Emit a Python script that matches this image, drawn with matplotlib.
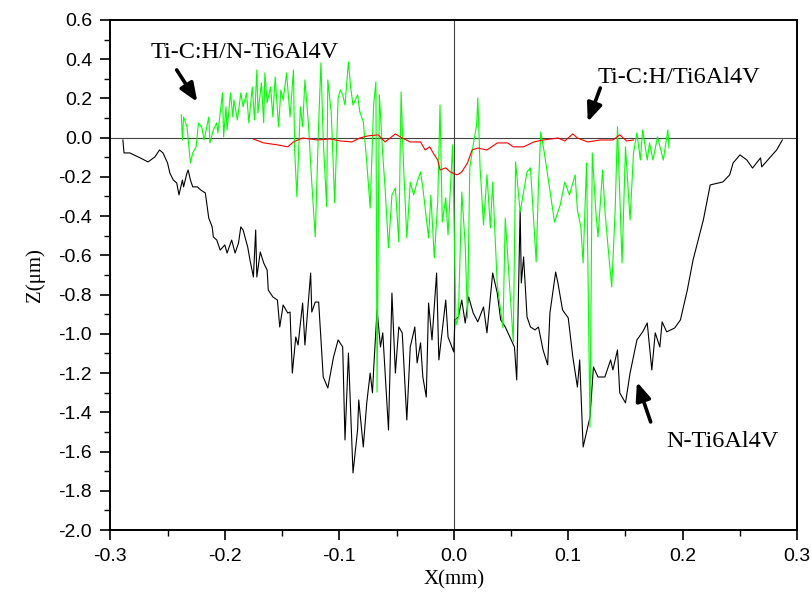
import matplotlib
matplotlib.use("Agg")
import matplotlib.pyplot as plt
from matplotlib.ticker import MultipleLocator

plt.rcParams['axes.unicode_minus'] = False

# N-Ti6Al4V (black)
black_x = [-0.289, -0.288, -0.283, -0.274, -0.267, -0.261, -0.257, -0.254, -0.250, -0.248,
           -0.245, -0.242, -0.240, -0.237, -0.236, -0.233, -0.232, -0.230, -0.228, -0.224,
           -0.221, -0.217, -0.214, -0.211, -0.210, -0.207, -0.204, -0.200, -0.198, -0.194,
           -0.191, -0.188, -0.186, -0.184, -0.180, -0.178, -0.175, -0.173, -0.172, -0.169,
           -0.166, -0.163, -0.162, -0.158, -0.154, -0.152, -0.149, -0.145, -0.143, -0.141,
           -0.138, -0.136, -0.132, -0.130, -0.125, -0.124, -0.121, -0.118, -0.114, -0.110,
           -0.105, -0.101, -0.097, -0.095, -0.092, -0.088, -0.084, -0.083, -0.079, -0.076,
           -0.073, -0.071, -0.070, -0.067, -0.064, -0.062, -0.057, -0.054, -0.051, -0.048,
           -0.045, -0.041, -0.038, -0.034, -0.032, -0.029, -0.027, -0.024, -0.022, -0.019,
           -0.015, -0.013, -0.007, -0.005, 0.000, 0.001, 0.004, 0.007, 0.010, 0.013,
           0.017, 0.021, 0.026, 0.029, 0.034, 0.038, 0.041, 0.045, 0.049, 0.053,
           0.055, 0.058, 0.059, 0.061, 0.064, 0.067, 0.071, 0.074, 0.078, 0.082,
           0.084, 0.089, 0.091, 0.095, 0.100, 0.104, 0.108, 0.110, 0.113, 0.119,
           0.122, 0.126, 0.132, 0.137, 0.139, 0.143, 0.145, 0.150, 0.154, 0.160,
           0.165, 0.169, 0.173, 0.176, 0.180, 0.182, 0.186, 0.193, 0.198, 0.204,
           0.209, 0.218, 0.224, 0.235, 0.241, 0.244, 0.250, 0.256, 0.261, 0.268,
           0.269, 0.276, 0.282, 0.287]
black_y = [-0.012, -0.078, -0.078, -0.103, -0.124, -0.098, -0.063, -0.078, -0.129, -0.180,
           -0.216, -0.231, -0.292, -0.216, -0.251, -0.180, -0.165, -0.216, -0.251, -0.251,
           -0.267, -0.282, -0.410, -0.455, -0.506, -0.522, -0.573, -0.547, -0.588, -0.522,
           -0.588, -0.537, -0.455, -0.471, -0.557, -0.624, -0.710, -0.471, -0.710, -0.583,
           -0.639, -0.675, -0.777, -0.812, -0.828, -0.965, -0.853, -0.894, -0.889, -1.200,
           -1.016, -1.057, -0.843, -1.057, -0.690, -0.889, -0.838, -0.838, -1.220, -1.276,
           -1.118, -1.031, -1.067, -1.541, -1.098, -1.709, -1.490, -1.337, -1.577, -1.352,
           -1.200, -1.301, -1.184, -0.878, -1.067, -0.995, -1.490, -0.792, -1.200, -0.965,
           -0.995, -1.439, -1.067, -0.965, -1.148, -1.046, -1.220, -1.322, -0.843, -1.031,
           -0.690, -1.133, -0.828, -1.016, -1.092, -0.929, -0.914, -0.828, -0.945, -0.812,
           -0.894, -0.939, -0.863, -0.995, -0.690, -0.792, -0.929, -0.965, -1.016, -1.067,
           -1.235, -0.369, -0.741, -0.608, -0.914, -0.965, -0.980, -0.965, -1.082, -1.158,
           -0.894, -0.685, -0.741, -0.878, -0.919, -1.118, -1.271, -1.133, -1.577, -1.424,
           -1.169, -1.220, -1.220, -1.133, -1.184, -1.082, -1.301, -1.352, -1.200, -1.031,
           -0.990, -0.945, -1.184, -0.995, -1.067, -0.939, -0.990, -0.970, -0.929, -0.777,
           -0.624, -0.420, -0.241, -0.226, -0.190, -0.129, -0.088, -0.114, -0.155, -0.103,
           -0.149, -0.103, -0.063, -0.012]

# Ti-C:H/N-Ti6Al4V (green)
green_x = [-0.238, -0.237, -0.236, -0.233, -0.230, -0.228, -0.225, -0.223, -0.220, -0.218,
           -0.214, -0.213, -0.210, -0.207, -0.206, -0.202, -0.201, -0.199, -0.198, -0.195,
           -0.193, -0.192, -0.189, -0.186, -0.184, -0.181, -0.179, -0.176, -0.174, -0.172,
           -0.171, -0.168, -0.166, -0.165, -0.163, -0.160, -0.158, -0.156, -0.153, -0.151,
           -0.149, -0.146, -0.143, -0.140, -0.139, -0.137, -0.134, -0.132, -0.130, -0.127,
           -0.124, -0.121, -0.118, -0.116, -0.114, -0.111, -0.110, -0.107, -0.104, -0.101,
           -0.099, -0.097, -0.095, -0.092, -0.090, -0.088, -0.084, -0.082, -0.079, -0.076,
           -0.073, -0.070, -0.068, -0.067, -0.065, -0.062, -0.060, -0.057, -0.054, -0.051,
           -0.048, -0.046, -0.044, -0.041, -0.038, -0.035, -0.032, -0.029, -0.027, -0.022,
           -0.020, -0.017, -0.014, -0.012, -0.010, -0.007, -0.005, -0.001, 0.002, 0.004,
           0.007, 0.010, 0.012, 0.014, 0.017, 0.020, 0.021, 0.023, 0.026, 0.029,
           0.032, 0.034, 0.038, 0.043, 0.045, 0.048, 0.052, 0.054, 0.058, 0.061,
           0.064, 0.067, 0.072, 0.074, 0.076, 0.079, 0.082, 0.088, 0.093, 0.097,
           0.101, 0.106, 0.108, 0.111, 0.113, 0.116, 0.119, 0.121, 0.124, 0.126,
           0.130, 0.132, 0.135, 0.138, 0.141, 0.143, 0.147, 0.150, 0.154, 0.157,
           0.160, 0.163, 0.165, 0.169, 0.171, 0.174, 0.178, 0.183, 0.187, 0.188]
green_y = [0.116, -0.012, 0.105, 0.055, -0.129, -0.078, -0.047, 0.075, 0.049, -0.012,
           0.105, -0.027, 0.039, 0.075, 0.024, 0.228, 0.004, 0.157, 0.039, 0.228,
           0.105, 0.192, 0.090, 0.228, 0.157, 0.228, 0.075, 0.258, 0.090, 0.345,
           0.126, 0.279, 0.075, 0.330, 0.177, 0.258, 0.105, 0.309, 0.055, 0.243,
           0.192, 0.330, 0.105, 0.345, -0.063, -0.302, 0.157, 0.055, 0.294, 0.075,
           -0.231, -0.506, 0.075, 0.381, -0.012, -0.353, 0.294, 0.126, -0.333, 0.202,
           0.243, 0.218, 0.166, 0.386, 0.253, 0.166, 0.218, 0.131, 0.080, -0.124,
           -0.359, 0.166, 0.284, -1.297, 0.218, -0.088, -0.256, -0.562, -0.292, -0.256,
           -0.532, 0.233, -0.124, -0.511, -0.226, -0.292, -0.226, -0.175, -0.256, -0.511,
           -0.292, -0.613, -0.328, 0.166, -0.430, -0.307, -0.496, -0.037, -0.955, -0.919,
           -0.277, -0.547, -0.919, -0.154, -0.037, 0.065, 0.202, -0.154, -0.445, -0.190,
           -0.460, -0.226, -0.751, -0.970, -0.410, -0.685, -1.041, -0.124, -0.379, -0.277,
           -0.175, -0.154, -0.634, -0.241, 0.029, -0.073, -0.190, -0.430, -0.343, -0.226,
           -0.292, -0.190, -0.369, -0.455, -0.639, -0.129, -1.475, -0.078, -0.369, -0.506,
           -0.165, -0.369, -0.573, -0.761, -0.369, 0.055, -0.639, -0.047, -0.420, -0.078,
           0.024, -0.114, 0.039, -0.114, -0.027, -0.114, 0.004, -0.114, 0.039, -0.053]

# Ti-C:H/Ti6Al4V (red)
red_x = [-0.175, -0.166, -0.154, -0.145, -0.140, -0.132, -0.119, -0.108, -0.099, -0.089,
         -0.082, -0.075, -0.066, -0.060, -0.051, -0.045, -0.038, -0.029, -0.025, -0.021,
         -0.018, -0.014, -0.012, -0.007, -0.003, 0.003, 0.007, 0.012, 0.016, 0.021,
         0.029, 0.038, 0.047, 0.052, 0.061, 0.070, 0.078, 0.091, 0.097, 0.104,
         0.108, 0.117, 0.128, 0.139, 0.145, 0.151, 0.157]
red_y = [-0.007, -0.027, -0.037, -0.047, -0.022, -0.002, -0.012, -0.007, -0.017, -0.022,
         -0.002, 0.009, 0.014, -0.022, 0.019, -0.002, -0.022, -0.022, -0.063, -0.047,
         -0.078, -0.114, -0.165, -0.154, -0.175, -0.190, -0.175, -0.129, -0.063, -0.053,
         -0.063, -0.027, -0.027, -0.047, -0.047, -0.022, -0.012, -0.002, -0.017, 0.019,
         -0.002, -0.022, -0.012, -0.012, 0.014, -0.017, -0.012]

fig = plt.figure(figsize=(8.11, 6.03), dpi=100)
ax = fig.add_axes([0.136, 0.121, 0.847, 0.846])

ax.axhline(0, color='#444444', lw=0.8, zorder=1)
ax.axvline(0, color='#444444', lw=0.8, zorder=1)

ax.plot(black_x, black_y, color='black', lw=0.8, zorder=2)
ax.plot(green_x, green_y, color='#00ff00', lw=0.8, zorder=3)
ax.plot(red_x, red_y, color='red', lw=0.8, zorder=4)

ax.set_xlim(-0.3, 0.3)
ax.set_ylim(-2.0, 0.6)
ax.xaxis.set_major_locator(MultipleLocator(0.1))
ax.xaxis.set_minor_locator(MultipleLocator(0.05))
ax.yaxis.set_major_locator(MultipleLocator(0.2))
ax.yaxis.set_minor_locator(MultipleLocator(0.1))
ax.xaxis.set_major_formatter(plt.FormatStrFormatter('%.1f'))
ax.yaxis.set_major_formatter(plt.FormatStrFormatter('%.1f'))
ax.tick_params(which='major', direction='out', length=7, width=1.2,
               labelsize=14, pad=6)
ax.tick_params(which='minor', direction='out', length=4, width=1.0)
for lab in ax.get_xticklabels() + ax.get_yticklabels():
    lab.set_family('Liberation Sans')
for s in ax.spines.values():
    s.set_linewidth(1.4)

ax.set_xlabel('X(mm)', family='Liberation Serif', fontsize=15, labelpad=4)
ax.set_ylabel('Z(μm)', family='Liberation Serif', fontsize=15, labelpad=10)

tfont = dict(family='Liberation Serif', fontsize=17.5, va='baseline', ha='left')
ax.text(-0.265, 0.406, 'Ti-C:H/N-Ti6Al4V', **tfont)
ax.text(0.126, 0.279, 'Ti-C:H/Ti6Al4V', **tfont)
ax.text(0.186, -1.577, 'N-Ti6Al4V', **tfont)

# arrows pointing at the curves
arrow = dict(arrowstyle='-|>,head_length=1.1,head_width=0.45', color='black',
             lw=2.6, shrinkA=0, shrinkB=0)
ax.annotate('', xy=(-0.224, 0.182), xytext=(-0.242, 0.345), arrowprops=arrow)
ax.annotate('', xy=(0.117, 0.080), xytext=(0.128, 0.253), arrowprops=arrow)
ax.annotate('', xy=(0.160, -1.245), xytext=(0.172, -1.449), arrowprops=arrow)

fig.savefig('out.png', dpi=100)
